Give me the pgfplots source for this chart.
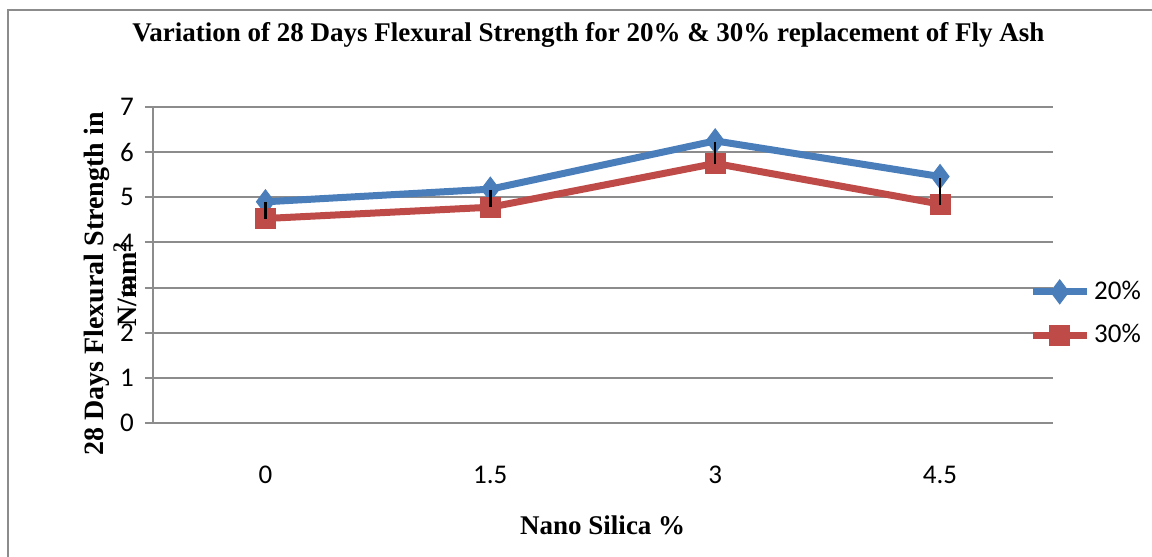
\documentclass[border=0pt]{standalone}
\usepackage{fontspec}
\setmainfont{Liberation Serif}
\newfontfamily\calibri{Carlito}
\usepackage{pgfplots}
\pgfplotsset{compat=1.18}

\definecolor{xlblue}{HTML}{4A7EBB}
\definecolor{xlred}{HTML}{BE4B48}
\definecolor{gridgray}{HTML}{8C8C8C}

\pgfplotstableread{
x  p20   p30
0  4.90  4.53
1  5.18  4.78
2  6.25  5.75
3  5.46  4.85
}\flexdata

\begin{document}
\begin{tikzpicture}[x=1pt,y=1pt]
\useasboundingbox (0,0) rectangle (576,278.5);
% outer chart frame (only top and left edges are in view)
\draw[gridgray, line width=1pt] (4,0) -- (4,273.5) -- (576,273.5);

\begin{axis}[
    at={(76.5pt,67pt)}, anchor=south west,
    scale only axis,
    width=449.75pt, height=158pt,
    xmin=-0.5, xmax=3.5,
    ymin=0, ymax=7,
    xtick=data,
    xticklabels={0,1.5,3,4.5},
    ytick={0,1,...,7},
    axis lines=left,
    axis line style={gridgray, line width=1pt, -},
    x axis line style={draw=none},
    ymajorgrids,
    grid style={gridgray, line width=1pt},
    major tick length=4pt,
    xtick style={draw=none},
    ytick style={gridgray, line width=1pt},
    tick align=outside,
    /pgf/number format/assume math mode=true,
    tick label style={font=\calibri\fontsize{13.5}{16}\selectfont, black},
    xticklabel style={yshift=-14pt},
    yticklabel style={xshift=-2pt},
    xlabel={\bfseries Nano Silica \%},
    xlabel style={font=\fontsize{13.5}{16}\selectfont, at={(axis description cs:0.5,-0.323)}, anchor=center},
    ylabel={\bfseries 28 Days Flexural Strength in\\ \bfseries N/mm\textsuperscript{2}},
    ylabel style={font=\fontsize{14}{16.5}\selectfont, align=center, rotate=0,
                  at={(axis description cs:-0.047,0.44)}, anchor=center},
    title={\bfseries Variation of 28 Days Flexural Strength for 20\% \& 30\% replacement of Fly Ash},
    title style={font=\fontsize{13.5}{16}\selectfont, at={(axis description cs:0.484,1.19)}, anchor=center},
    legend style={draw=none, fill=none, at={(axis description cs:0.967,0.3465)}, anchor=west,
                  font=\calibri\fontsize{13.5}{16}\selectfont, row sep=7pt,
                  /tikz/every even column/.append style={column sep=3pt}},
    legend cell align=left,
    legend image code/.code={
        \draw[#1, mark=none] (0pt,0pt) -- (27pt,0pt);
        \draw[#1, only marks] plot coordinates {(13.5pt,0pt)};
    },
    clip=false,
    clip marker paths=true,
]
\addplot[xlblue, line width=3.5pt, mark=diamond*, mark size=6pt,
         mark options={solid, line width=0.5pt, fill=xlblue}] table[x=x, y=p20] {\flexdata};
\addlegendentry{20\%}
\addplot[xlred, line width=3.5pt, mark=square*, mark size=5pt,
         mark options={solid, line width=0.5pt, fill=xlred}] table[x=x, y=p30] {\flexdata};
\addlegendentry{30\%}
% error bars (black, from the 20% point down towards the 30% point), drawn over the marks
\addplot[black, line width=1.3pt, forget plot] coordinates {(0,4.89) (0,4.52)};
\addplot[black, line width=1.3pt, forget plot] coordinates {(1,5.16) (1,4.79)};
\addplot[black, line width=1.3pt, forget plot] coordinates {(2,6.23) (2,5.74)};
\addplot[black, line width=1.3pt, forget plot] coordinates {(3,5.43) (3,4.83)};
\end{axis}
\end{tikzpicture}
\end{document}
